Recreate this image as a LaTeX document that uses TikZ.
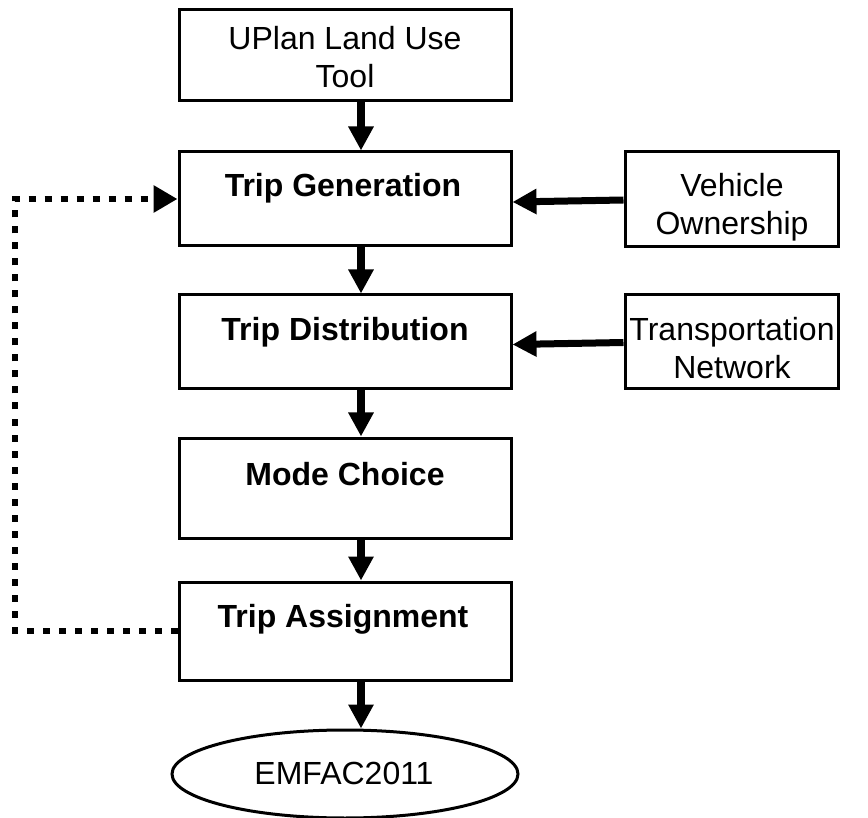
\documentclass[tikz,border=0pt]{standalone}
\usepackage{fontspec}
\setmainfont{Liberation Sans}
\usetikzlibrary{arrows.meta,shapes.geometric}
\begin{document}
\begin{tikzpicture}[x=1pt,y=-1pt,
  box/.style={draw,line width=3pt,rectangle,inner sep=0pt},
  oval/.style={draw,line width=3pt,ellipse,inner sep=0pt,minimum width=346pt,minimum height=88pt},
  lbl/.style={align=center,inner sep=0pt,font=\fontsize{32}{38}\selectfont},
  arr/.style={line width=8pt,-{Triangle[length=24pt,width=24pt]}},
  dots/.style={line width=6pt,dash pattern=on 7pt off 9pt,-{Triangle[length=24pt,width=26pt]}}]
\useasboundingbox (0,0) rectangle (868,818);
\node[box,minimum width=332pt,minimum height=91pt] (up) at (345,55.5) {};
\node[box,minimum width=332pt,minimum height=94pt] (tg) at (345,199) {};
\node[box,minimum width=332pt,minimum height=94pt] (td) at (345,342) {};
\node[box,minimum width=332pt,minimum height=100pt] (mc) at (345,488) {};
\node[box,minimum width=332pt,minimum height=98pt] (ta) at (345,631) {};
\node[box,minimum width=213pt,minimum height=95pt] (vo) at (731.5,199.5) {};
\node[box,minimum width=213pt,minimum height=94pt] (tn) at (731.5,342) {};
\node[oval] (em) at (345,774) {};
\node[lbl] (upt) at (345,57) {UPlan Land Use\\Tool};
\node[lbl] (tgt) at (343,188) {\bfseries Trip Generation};
\node[lbl] (tdt) at (345,332) {\bfseries Trip Distribution};
\node[lbl] (mct) at (345,474) {\bfseries Mode Choice};
\node[lbl] (tat) at (343,619) {\bfseries Trip Assignment};
\node[lbl] (vot) at (732,207) {Vehicle\\Ownership};
\node[lbl] (tnt) at (732,348) {Transportation\\Network};
\node[lbl] (emt) at (344,773) {EMFAC2011};
\coordinate (lp) at (15,400);
\draw[arr] ([xshift=16pt]up.south) -- ([xshift=16pt]tg.north);
\draw[arr] ([xshift=16pt]tg.south) -- ([xshift=16pt]td.north);
\draw[arr] ([xshift=16pt]td.south) -- ([xshift=16pt]mc.north);
\draw[arr] ([xshift=16pt]mc.south) -- ([xshift=16pt]ta.north);
\draw[arr] ([xshift=16pt]ta.south) -- ([xshift=16pt]ta.south |- em.north);
\draw[arr,line width=7pt] ([yshift=-0.5pt]vo.west) -- ([yshift=-3pt]tg.east);
\draw[arr,line width=7pt] ([yshift=-0.5pt]tn.west) -- ([yshift=-2.5pt]td.east);
\draw[dots] (ta.west) -| (lp) |- (tg.west);
\end{tikzpicture}
\end{document}
